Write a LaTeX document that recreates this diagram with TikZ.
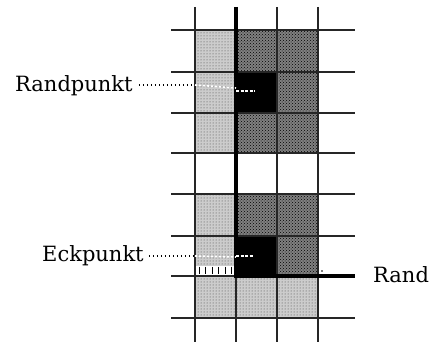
\documentclass[tikz,border=0pt]{standalone}
\usepackage{fontspec}
\setmainfont{DejaVu Serif}
\usetikzlibrary{patterns}
\begin{document}
\begin{tikzpicture}[x=1pt,y=-1pt,
  lbl/.style={anchor=base west,inner sep=0pt,font=\fontsize{21}{25}\selectfont},
  gridline/.style={line width=1.8pt,black!85},
  thickline/.style={line width=3.4pt,black},
  lightcell/.style={fill=black!20},
  darkcell/.style={fill=black!50},
  blackcell/.style={fill=black},
  leader/.style={black,line width=1.2pt,dash pattern=on 1.2pt off 2.8pt},
  wleader/.style={white,line width=1.6pt,dash pattern=on 2pt off 2pt}]
\useasboundingbox (0,0) rectangle (438,342);
% --- cells, upper block
\fill[lightcell] (195,30) rectangle (236,153);
\fill[darkcell] (236,30) rectangle (318,153);
\fill[blackcell] (236,72) rectangle (277,113);
% --- cells, lower block
\fill[lightcell] (195,194) rectangle (236,318);
\fill[darkcell] (236,194) rectangle (318,276);
\fill[blackcell] (236,236) rectangle (277,276);
\fill[lightcell] (236,276) rectangle (318,318);
% textures
\path[pattern=dots,pattern color=black!75] (195,30) rectangle (236,153);
\path[pattern=dots,pattern color=black!75] (195,194) rectangle (236,318);
\path[pattern=dots,pattern color=black!75] (236,276) rectangle (318,318);
\path[pattern=crosshatch dots,pattern color=black] (236,30) rectangle (318,72);
\path[pattern=crosshatch dots,pattern color=black] (277,72) rectangle (318,113);
\path[pattern=crosshatch dots,pattern color=black] (236,113) rectangle (318,153);
\path[pattern=crosshatch dots,pattern color=black] (236,194) rectangle (318,236);
\path[pattern=crosshatch dots,pattern color=black] (277,236) rectangle (318,276);
% --- grid lines
\foreach \x in {195,277,318}{\draw[gridline] (\x,7) -- (\x,342);}
\draw[gridline] (236,276) -- (236,342);
\foreach \y in {30,72,113,153,194,236,318}{\draw[gridline] (171,\y) -- (355,\y);}
\draw[gridline] (171,276) -- (236,276);
% --- boundary (Rand)
\draw[thickline] (236,7) -- (236,276) -- (355,276);
% --- labels
\node[lbl] (rp) at (15,92) {Randpunkt};
\node[lbl] (ep) at (42,261) {Eckpunkt};
\node[lbl] (rd) at (373,282) {Rand};
% --- leaders
\coordinate (rpA) at (195,85);
\coordinate (rpB) at (236,88);
\coordinate (rpC) at (255,91);
\draw[leader] (rp.east |- rpA) ++(6,0) -- (rpA);
\draw[wleader] (rpA) -- (rpB);
\draw[white,line width=2pt,dash pattern=on 3pt off 1.5pt] (rpB |- rpC) -- (rpC);
\coordinate (epA) at (195,256);
\coordinate (epB) at (236,257);
\coordinate (epC) at (253,256);
\draw[leader] (ep.east |- epA) ++(5,0) -- (epA);
\draw[wleader] (epA) -- (epB);
\draw[white,line width=2pt,dash pattern=on 3pt off 1.5pt] (epB |- epC) -- (epC);
% tick band under the corner point
\fill[white] (196,266) rectangle (234,275);
\foreach \x in {199,205.5,212,218.5,225,231.5}{\draw[black,line width=1pt] (\x,266.5) -- (\x,274);}
\fill[black] (322,271) circle (0.8);
\end{tikzpicture}
\end{document}
